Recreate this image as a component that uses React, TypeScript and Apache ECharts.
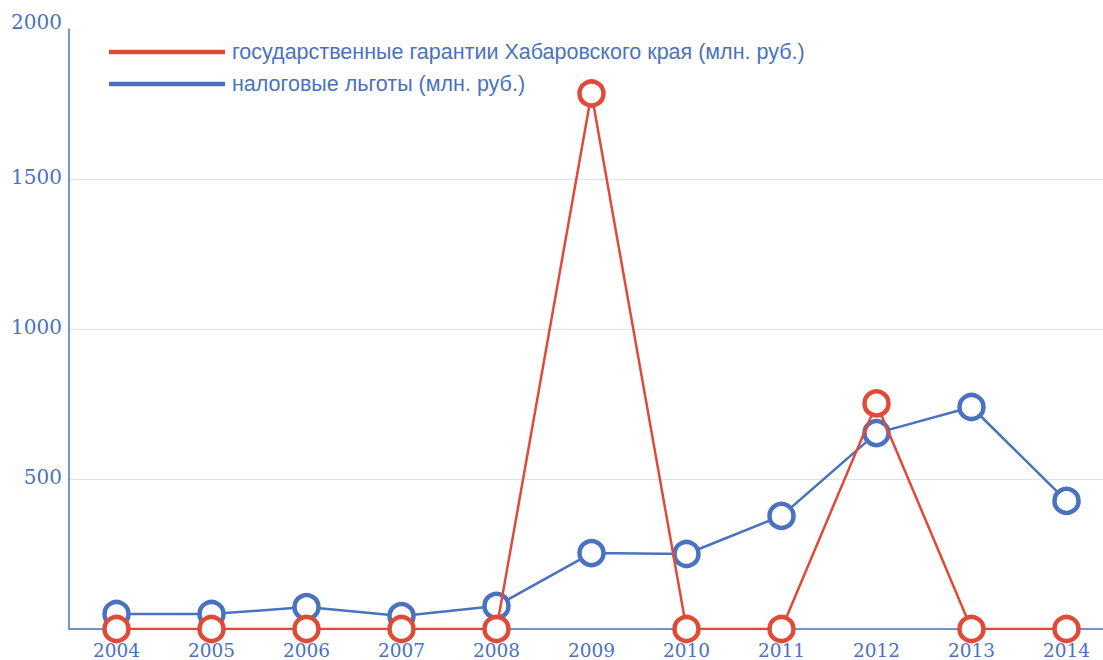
import React, { useEffect, useRef } from "react";
import * as echarts from "echarts";

const years = ["2004", "2005", "2006", "2007", "2008", "2009", "2010", "2011", "2012", "2013", "2014"];
const guarantees = [0, 0, 0, 0, 0, 1785, 0, 0, 752, 0, 0];
const taxBenefits = [50, 50, 73, 43, 77, 253, 250, 377, 653, 740, 427];
const nameGuarantees = "государственные гарантии Хабаровского края (млн. руб.)";
const nameTax = "налоговые льготы (млн. руб.)";

const RED = "#e04a37";
const BLUE = "#4a72bf";

export default function App() {
  const ref = useRef<HTMLDivElement>(null);
  useEffect(() => {
    if (!ref.current) return;
    const chart = echarts.init(ref.current, undefined, { renderer: "svg" });
    chart.setOption({
      animation: false,
      backgroundColor: "#ffffff",
      grid: { left: 69, right: 0, top: 29, height: 600, containLabel: false },
      legend: {
        orient: "vertical",
        left: 109,
        top: 41,
        padding: 0,
        itemWidth: 114,
        itemHeight: 2.5,
        itemGap: 10,
        icon: "rect",
        data: [
          { name: nameGuarantees, itemStyle: { color: RED } },
          { name: nameTax, itemStyle: { color: BLUE } },
        ],
        textStyle: { color: BLUE, fontSize: 21.5, fontFamily: "Liberation Sans", padding: [0, 0, 0, 3] },
      },
      xAxis: {
        type: "category",
        data: years,
        boundaryGap: true,
        axisLine: { lineStyle: { color: BLUE, width: 1.5 } },
        axisTick: { show: false },
        axisLabel: { color: BLUE, fontSize: 18.5, fontFamily: "DejaVu Serif", margin: 12 },
      },
      yAxis: {
        type: "value",
        min: 0,
        max: 2000,
        interval: 500,
        axisLine: { show: true, lineStyle: { color: BLUE, width: 1.5 } },
        axisTick: { show: false },
        splitLine: { showMaxLine: false, lineStyle: { color: "#d9e2f1", width: 1 } },
        axisLabel: {
          color: BLUE,
          fontSize: 20,
          fontFamily: "DejaVu Serif",
          margin: 7,
          formatter: (v: number) => (v === 0 ? "" : v === 2000 ? "{top|2000}" : String(v)),
          verticalAlign: "middle",
          padding: [0, 0, 5, 0],
          rich: {
            top: { fontSize: 20, fontFamily: "DejaVu Serif", color: BLUE, padding: [0, 0, 10, 0] },
          },
        },
      },
      series: [
        {
          name: nameTax,
          type: "line",
          data: taxBenefits,
          symbol: "circle",
          symbolSize: 24,
          lineStyle: { color: BLUE, width: 2.5 },
          itemStyle: { color: "#ffffff", borderColor: BLUE, borderWidth: 4.5 },
          z: 2,
        },
        {
          name: nameGuarantees,
          type: "line",
          data: guarantees,
          symbol: "circle",
          symbolSize: 24,
          lineStyle: { color: RED, width: 2.5 },
          itemStyle: { color: "#ffffff", borderColor: RED, borderWidth: 4.5 },
          z: 3,
        },
      ],
    });
    return () => chart.dispose();
  }, []);
  return (
    <div style={{ position: "absolute", left: 0, top: 0, width: 1103, height: 660, overflow: "hidden" }}>
      <div ref={ref} style={{ width: 1114, height: 660 }} />
    </div>
  );
}
